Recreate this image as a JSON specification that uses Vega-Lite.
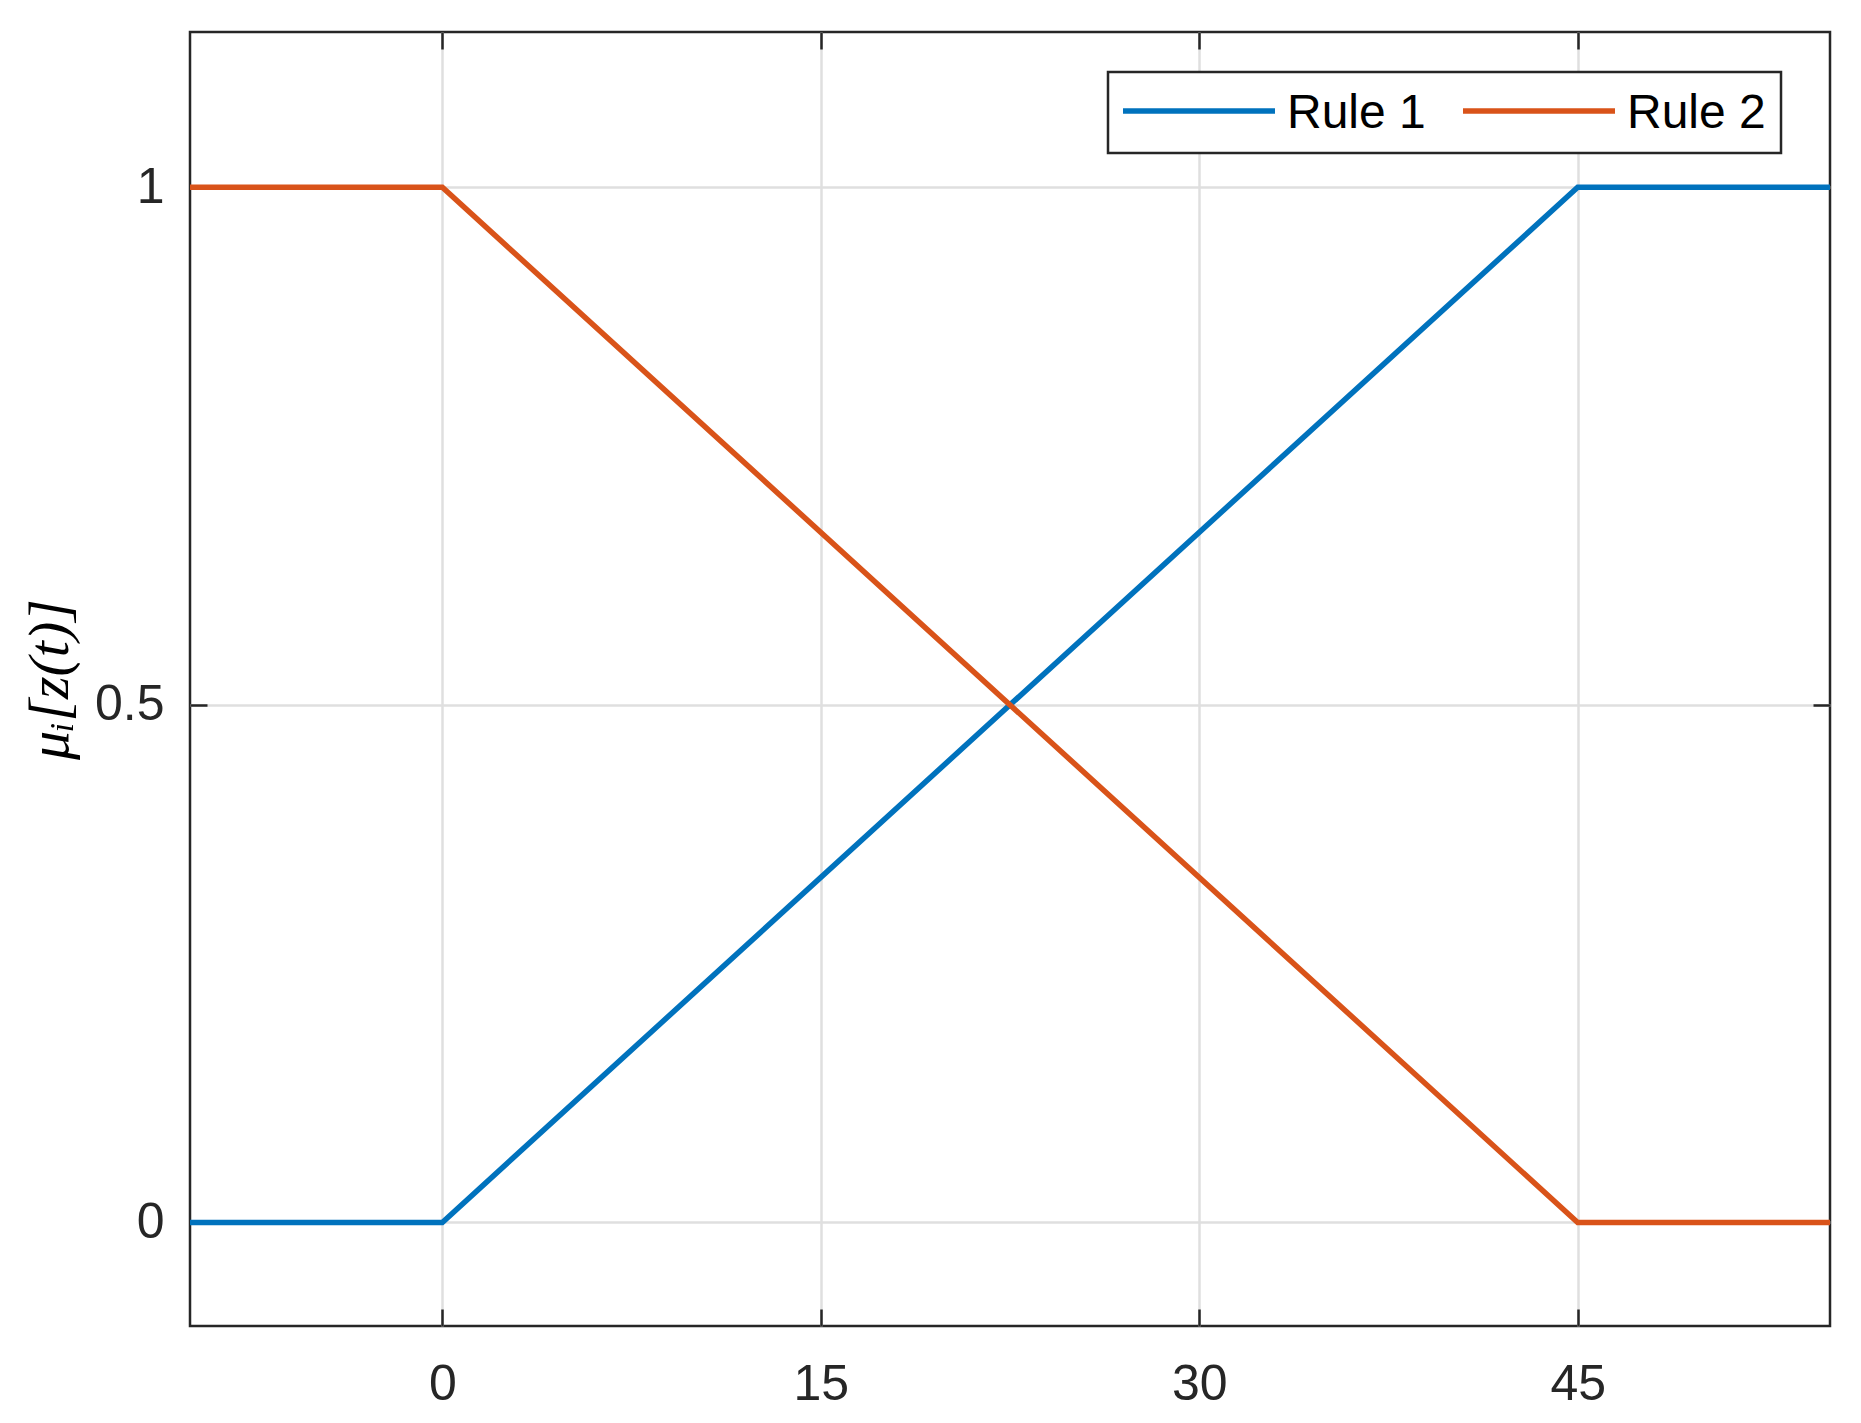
{
  "$schema": "https://vega.github.io/schema/vega-lite/v6.json",
  "width": 1640,
  "height": 1294,
  "autosize": "none",
  "padding": {"left": 190, "top": 32, "right": 31, "bottom": 97},
  "background": "white",
  "config": {
    "view": {"stroke": "#262626", "strokeWidth": 2.5},
    "axis": {
      "domain": false,
      "labelFont": "Liberation Sans",
      "labelFontSize": 50,
      "labelColor": "#262626",
      "gridColor": "#dfdfdf",
      "gridWidth": 2.5,
      "tickColor": "#262626",
      "tickWidth": 2.5,
      "tickSize": -17
    },
    "legend": {
      "labelFont": "Liberation Sans",
      "labelFontSize": 48,
      "labelColor": "#000000"
    }
  },
  "data": {
    "values": [
      {"z": -10, "mu": 0, "rule": "Rule 1"},
      {"z": 0, "mu": 0, "rule": "Rule 1"},
      {"z": 45, "mu": 1, "rule": "Rule 1"},
      {"z": 55, "mu": 1, "rule": "Rule 1"},
      {"z": -10, "mu": 1, "rule": "Rule 2"},
      {"z": 0, "mu": 1, "rule": "Rule 2"},
      {"z": 45, "mu": 0, "rule": "Rule 2"},
      {"z": 55, "mu": 0, "rule": "Rule 2"}
    ]
  },
  "layer": [
    {
      "mark": {"type": "line", "strokeWidth": 5.5, "clip": true},
      "encoding": {
        "x": {
          "field": "z", "type": "quantitative",
          "scale": {"domain": [-10, 55], "nice": false, "zero": false},
          "axis": {"orient": "bottom", "values": [0, 15, 30, 45], "title": null, "labelPadding": 50, "grid": true}
        },
        "y": {
          "field": "mu", "type": "quantitative",
          "scale": {"domain": [-0.1, 1.15], "nice": false, "zero": false},
          "axis": {
            "orient": "left", "values": [0, 0.5, 1], "grid": true, "labelPadding": 43,
            "labelExpr": "datum.value == 0.5 ? '0.5' : format(datum.value, 'd')",
            "title": "μᵢ[z(t)]",
            "titleFont": "Liberation Serif",
            "titleFontStyle": "italic",
            "titleFontWeight": "normal",
            "titleFontSize": 58,
            "titleColor": "#000000",
            "titleAngle": -90,
            "titleX": -140,
            "titleBaseline": "middle",
            "titleAlign": "center"
          }
        },
        "color": {
          "field": "rule", "type": "nominal",
          "scale": {"domain": ["Rule 1", "Rule 2"], "range": ["#0072BD", "#D95319"]},
          "legend": {
            "title": null,
            "orient": "none",
            "legendX": 918,
            "legendY": 40,
            "direction": "horizontal",
            "symbolType": "M-10,0H10",
            "symbolSize": 231,
            "symbolStrokeWidth": 5.5,
            "symbolOffset": 52,
            "labelOffset": 64,
            "columnPadding": 26,
            "padding": 15,
            "strokeColor": "#262626",
            "fillColor": "white",
            "labelBaseline": "middle",
            "encode": {
              "legend": {"update": {"strokeWidth": {"value": 2.5}}},
              "labels": {"update": {"dy": {"value": 3}}}
            }
          }
        }
      }
    },
    {
      "mark": {"type": "line", "opacity": 0},
      "encoding": {
        "x": {
          "field": "z", "type": "quantitative",
          "axis": {"orient": "top", "values": [0, 15, 30, 45], "labels": false, "grid": false, "title": null}
        },
        "y": {
          "field": "mu", "type": "quantitative",
          "axis": {"orient": "right", "values": [0, 0.5, 1], "labels": false, "grid": false, "title": null}
        },
        "detail": {"field": "rule"}
      }
    }
  ]
}
